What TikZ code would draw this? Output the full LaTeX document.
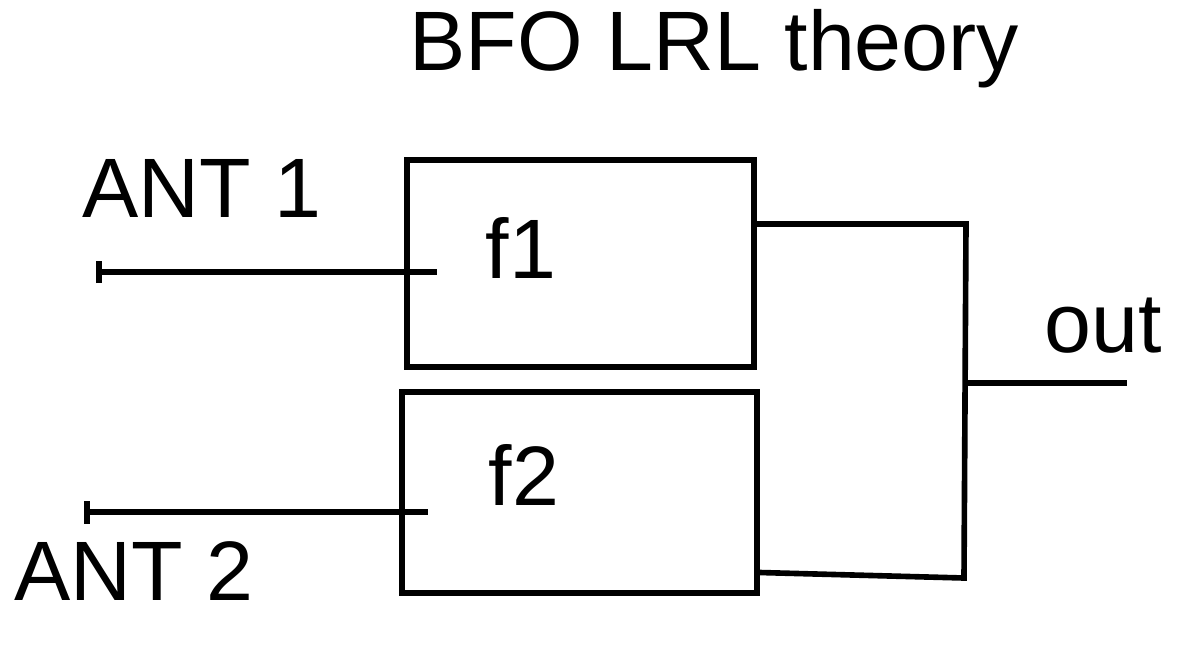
\documentclass[tikz,border=0pt]{standalone}
\usepackage{fontspec}
\setmainfont{Liberation Sans}
\usetikzlibrary{arrows.meta,calc}
\tikzset{
  wire/.style={line width=1.6pt},
  blockbox/.style={draw,line width=1.6pt,inner sep=0pt},
  lbl/.style={anchor=base west,inner sep=0pt,font=\fontsize{24}{28}\selectfont}
}
\begin{document}
\begin{tikzpicture}
        \useasboundingbox (0,0) rectangle (11.95,6.57);
        \node[lbl] (title) at (4.09,5.87) {BFO LRL theory};
        \node[blockbox,minimum width=3.47cm,minimum height=2.07cm] (f1) at (5.805,3.935) {};
        \node[blockbox,minimum width=3.55cm,minimum height=2.01cm] (f2) at (5.795,1.645) {};
        \node[lbl] (f1lbl) at (4.85,3.79) {f1};
        \node[lbl] (f2lbl) at (4.88,1.52) {f2};
        \node[lbl] (ant1) at (0.82,4.40) {ANT 1};
        \node[lbl] (ant2) at (0.14,0.57) {ANT 2};
        \node[lbl] (outlbl) at (10.44,3.05) {out};
        \coordinate (in1) at (0.96,3.85);
        \coordinate (in1end) at (4.37,3.85);
        \coordinate (in2) at (0.84,1.45);
        \coordinate (in2end) at (4.28,1.45);
        \coordinate (jtop) at (9.66,4.33);
        \coordinate (jbot) at (9.64,0.79);
        \coordinate (jmid) at (9.66,2.74);
        \coordinate (outend) at (11.27,2.74);
        \draw[wire,{Bar[width=0.22cm]}-] (in1) -- (in1end);
        \draw[wire,{Bar[width=0.23cm]}-] (in2) -- (in2end);
        \draw[wire] (f1.east |- jtop) -- (jtop) -- (jbot) -- ($(f2.east)+(0,-0.8)$);
        \draw[wire] (jmid) -- (outend);
      \end{tikzpicture}
\end{document}
